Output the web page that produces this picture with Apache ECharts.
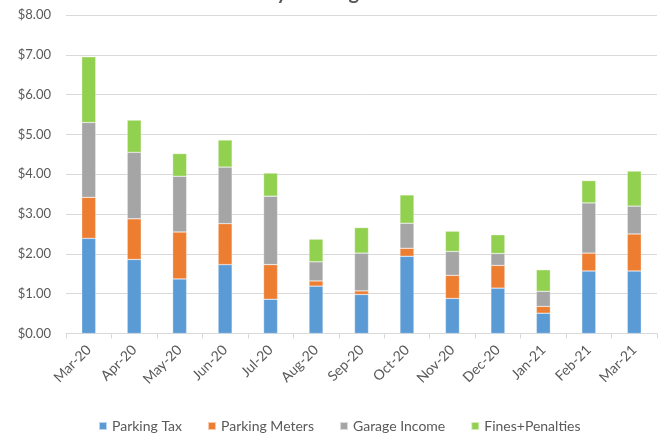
<!DOCTYPE html>
<html>
<head>
<meta charset="utf-8">
<script src="https://cdn.jsdelivr.net/npm/echarts@6/dist/echarts.min.js"></script>
<style>
html,body{margin:0;padding:0;background:#fff;}
#chart{width:661px;height:437px;}
</style>
</head>
<body>
<div id="chart"></div>
<script>
var titleText = 'Monthly Parking Revenues';
var categories = ['Mar-20','Apr-20','May-20','Jun-20','Jul-20','Aug-20','Sep-20','Oct-20','Nov-20','Dec-20','Jan-21','Feb-21','Mar-21'];
var seriesNames = ['Parking Tax','Parking Meters','Garage Income','Fines+Penalties'];
var parkingTax    = [2.39,1.86,1.37,1.73,0.86,1.19,0.98,1.94,0.88,1.14,0.51,1.57,1.57];
var parkingMeters = [1.03,1.02,1.18,1.03,0.87,0.13,0.09,0.20,0.58,0.57,0.17,0.45,0.93];
var garageIncome  = [1.88,1.67,1.40,1.42,1.72,0.48,0.95,0.63,0.60,0.30,0.38,1.26,0.70];
var finesPenalties= [1.65,0.81,0.57,0.68,0.58,0.57,0.64,0.71,0.51,0.47,0.54,0.56,0.88];
var yMin = 0, yMax = 8, yStep = 1;

var colors = ['#5B9BD5','#ED7D31','#A5A5A5','#92D050'];
var font = 'Lato, "Liberation Sans", sans-serif';
var textColor = '#595959';
var dataSets = [parkingTax, parkingMeters, garageIncome, finesPenalties];

var chart = echarts.init(document.getElementById('chart'), null, {renderer:'canvas'});
chart.setOption({
  animation: false,
  backgroundColor: '#fff',
  color: colors,
  title: {
    text: titleText,
    left: 'center',
    top: -22,
    textStyle: {fontFamily: font, fontSize: 20, fontWeight: 'bold', color: textColor}
  },
  legend: {
    data: seriesNames,
    left: 93,
    top: 414,
    itemWidth: 8,
    itemHeight: 8,
    itemGap: 25,
    icon: 'rect',
    textStyle: {fontFamily: font, fontSize: 14, color: textColor}
  },
  grid: {left: 66, right: 4, top: 15, bottom: 103.5, containLabel: false},
  xAxis: {
    type: 'category',
    data: categories,
    boundaryGap: true,
    axisLine: {show: true, lineStyle: {color: '#D9D9D9', width: 1}},
    axisTick: {show: true, alignWithLabel: false, length: 5, lineStyle: {color: '#D9D9D9'}},
    axisLabel: {rotate: 45, margin: 14, interval: 0, fontFamily: font, fontSize: 14, color: textColor}
  },
  yAxis: {
    type: 'value',
    min: yMin, max: yMax, interval: yStep,
    axisLine: {show: false},
    axisTick: {show: false},
    splitLine: {lineStyle: {color: '#D9D9D9', width: 1}},
    axisLabel: {margin: 15, fontFamily: font, fontSize: 13, color: textColor,
      formatter: function(v){ return '$' + v.toFixed(2); }}
  },
  series: seriesNames.map(function(n, i){
    return {
      name: n,
      type: 'bar',
      stack: 'total',
      barWidth: 14,
      data: dataSets[i],
      itemStyle: {color: colors[i], borderColor: 'rgba(255,255,255,0.6)', borderWidth: 0.5}
    };
  })
});
</script>
</body>
</html>
